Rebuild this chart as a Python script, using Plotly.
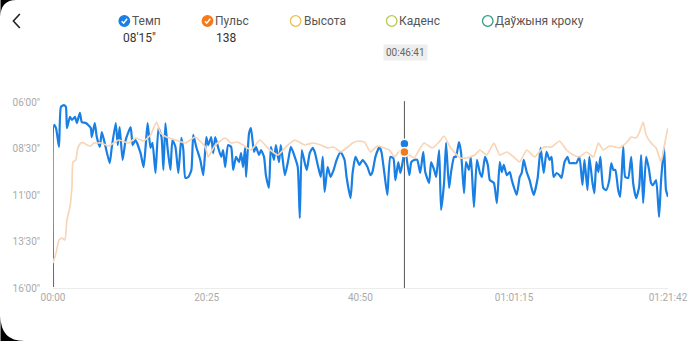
import plotly.graph_objects as go

# ---------------- data ----------------
# Pace (seconds per km) over elapsed time (seconds)
pace_t = [0, 8, 24, 48, 63, 87, 103, 111, 135, 151, 175, 190, 214, 230, 262, 301, 309, 333, 349, 373,
          389, 412, 452, 468, 500, 516, 531, 555, 579, 619, 635, 658, 698, 722, 738, 754, 777, 793, 817, 841,
          865, 880, 896, 912, 936, 952, 976, 999, 1023, 1039, 1055, 1079, 1103, 1118, 1142, 1174, 1198, 1222, 1237, 1261,
          1277, 1293, 1317, 1341, 1356, 1372, 1396, 1420, 1436, 1459, 1483, 1499, 1515, 1531, 1539, 1563, 1578, 1602, 1618, 1642,
          1658, 1682, 1697, 1721, 1737, 1761, 1777, 1801, 1816, 1848, 1872, 1896, 1927, 1951, 1967, 1983, 2007, 2023, 2046, 2070,
          2086, 2110, 2134, 2150, 2165, 2189, 2213, 2237, 2261, 2292, 2324, 2340, 2372, 2388, 2411, 2443, 2467, 2483, 2507, 2530,
          2546, 2570, 2602, 2618, 2641, 2665, 2689, 2713, 2729, 2752, 2768, 2792, 2801, 2840, 2856, 2879, 2903, 2927, 2951, 2967,
          2998, 3014, 3038, 3054, 3078, 3093, 3117, 3133, 3157, 3173, 3197, 3212, 3236, 3252, 3276, 3292, 3315, 3331, 3355, 3379,
          3403, 3419, 3443, 3466, 3482, 3514, 3538, 3561, 3577, 3593, 3617, 3641, 3657, 3673, 3696, 3720, 3736, 3752, 3776, 3799,
          3831, 3863, 3887, 3911, 3934, 3958, 3974, 3990, 4014, 4037, 4053, 4077, 4101, 4117, 4148, 4172, 4196, 4220, 4236, 4260,
          4275, 4299, 4315, 4331, 4347, 4363, 4386, 4410, 4434, 4450, 4466, 4482, 4505, 4521, 4545, 4561, 4585, 4609, 4624, 4648,
          4672, 4688, 4704, 4728, 4751, 4767, 4783, 4807, 4831, 4847, 4871, 4886, 4902]
pace_s = [957, 434, 444, 505, 376, 370, 376, 444, 408, 418, 408, 428, 395, 425, 428, 444, 473, 428, 473, 505,
          457, 492, 557, 508, 428, 499, 441, 547, 483, 441, 499, 483, 525, 570, 505, 428, 508, 492, 589, 444,
          473, 579, 428, 505, 579, 483, 505, 589, 476, 515, 605, 602, 579, 466, 505, 547, 596, 473, 499, 473,
          525, 473, 508, 537, 515, 570, 499, 505, 579, 537, 554, 525, 570, 508, 602, 460, 444, 521, 505, 531,
          515, 537, 596, 637, 505, 547, 499, 554, 499, 596, 554, 505, 537, 570, 734, 515, 557, 579, 525, 508,
          521, 563, 602, 537, 650, 570, 602, 579, 547, 521, 547, 602, 670, 589, 537, 563, 547, 554, 570, 596,
          586, 537, 505, 521, 589, 660, 537, 541, 612, 554, 589, 541, 495, 596, 554, 547, 547, 589, 521, 586,
          621, 554, 579, 602, 515, 708, 621, 492, 637, 586, 537, 537, 489, 521, 654, 554, 579, 537, 699, 547,
          589, 602, 537, 563, 612, 621, 686, 554, 586, 563, 596, 586, 612, 634, 660, 602, 589, 547, 586, 612,
          660, 605, 508, 589, 521, 547, 537, 602, 589, 596, 605, 554, 537, 557, 557, 557, 537, 628, 547, 644,
          537, 618, 654, 554, 586, 537, 637, 644, 612, 557, 579, 579, 644, 666, 505, 602, 605, 537, 621, 670,
          634, 531, 686, 537, 579, 621, 628, 612, 731, 612, 508, 644, 666]

# Heart rate (bpm) over elapsed time (seconds)
hr_t = [0, 24, 48, 71, 95, 111, 135, 151, 159, 182, 198, 222, 246, 270, 301, 325, 349, 381, 444, 524,
        603, 658, 722, 777, 825, 857, 904, 976, 1055, 1134, 1214, 1237, 1293, 1372, 1420, 1467, 1515, 1578, 1650, 1713,
        1793, 1864, 1927, 2007, 2070, 2134, 2189, 2237, 2292, 2340, 2388, 2435, 2483, 2530, 2586, 2641, 2681, 2721, 2768, 2801,
        2840, 2879, 2927, 2959, 3022, 3078, 3117, 3165, 3244, 3300, 3363, 3403, 3458, 3514, 3561, 3617, 3673, 3720, 3776, 3839,
        3911, 3974, 4037, 4093, 4148, 4196, 4252, 4307, 4347, 4386, 4434, 4482, 4513, 4569, 4609, 4648, 4672, 4704, 4728, 4767,
        4807, 4847, 4871, 4894, 4902]
hr_bpm = [82.5, 87.5, 94, 95, 94, 104, 110.5, 120.5, 133, 134, 140, 142.5, 142.5, 141.5, 141, 142.5, 142.5, 142.5, 141, 144,
          142.5, 145, 143.5, 146.5, 153, 147.5, 145.5, 144, 142.5, 145.5, 140.5, 135.5, 141.5, 145, 142.5, 143, 141.5, 139, 144, 140,
          136.5, 141, 144, 141.5, 142.5, 141.5, 140, 140.5, 138, 140, 142.5, 143.5, 143, 138, 141, 140, 139, 135.5, 139, 138,
          136.5, 135, 140, 142.5, 140, 143, 146, 140.5, 135, 135, 136.5, 139, 136.5, 142.5, 136.5, 138, 135.5, 133, 139, 135.5,
          140.5, 140.5, 143.5, 139, 136.5, 135.5, 138, 135.5, 142.5, 139, 141, 140.5, 140, 142.5, 145.5, 145, 147.5, 153, 146.5, 142.5,
          140, 133, 140.5, 148, 150]

x_tickvals = [0, 1225, 2450, 3675, 4902]
x_ticktext = ["00:00", "20:25", "40:50", "01:01:15", "01:21:42"]
y_tickvals = [360, 510, 660, 810, 960]
y_ticktext = ["06'00\"", "08'30\"", "11'00\"", "13'30\"", "16'00\""]

cursor_t = 2801
cursor_pace = 495
cursor_hr = 138
cursor_label = "00:46:41"

legend_items = ["Темп", "Пульс", "Высота", "Каденс", "Даўжыня кроку"]
legend_values = ["08'15\"", "138"]

BLUE = "#1A7FE3"
ORANGE = "#F27B1C"
PEACH = "#F8D5B6"

# ---------------- layout helpers (pixel -> paper) ----------------
L, R, T, B = 53, 674, 102, 288
W, H = 700, 341


def px(x):
    return (x - L) / (R - L)


def py(y):
    return (B - y) / (B - T)


fig = go.Figure()

fig.add_trace(go.Scatter(x=hr_t, y=hr_bpm, yaxis="y2", mode="lines",
                         line=dict(color=PEACH, width=1.7, shape="spline", smoothing=0.4),
                         hoverinfo="skip", showlegend=False))
fig.add_trace(go.Scatter(x=pace_t, y=pace_s, mode="lines",
                         line=dict(color=BLUE, width=2.2, shape="spline", smoothing=0.5),
                         hoverinfo="skip", showlegend=False))

# cursor markers
fig.add_trace(go.Scatter(x=[cursor_t], y=[cursor_pace], mode="markers",
                         marker=dict(color=BLUE, size=9, line=dict(color="white", width=1.5)),
                         showlegend=False, hoverinfo="skip"))
fig.add_trace(go.Scatter(x=[cursor_t], y=[cursor_hr], yaxis="y2", mode="markers",
                         marker=dict(color=ORANGE, size=9, line=dict(color="white", width=1.5)),
                         showlegend=False, hoverinfo="skip"))

shapes = []
# cursor line
shapes.append(dict(type="line", xref="x", yref="paper", x0=cursor_t, x1=cursor_t, y0=0, y1=1.005,
                   line=dict(color="#555555", width=1), layer="below"))

# legend circles
circ = [(125, BLUE, True), (209, ORANGE, True), (298, "#E6C04E", False), (395, "#B9CB4A", False),
        (492, "#2E9E80", False)]
cy = 21
r = 5.3
for cx, col, filled in circ:
    shapes.append(dict(type="circle", xref="paper", yref="paper",
                       x0=px(cx - r), x1=px(cx + r), y0=py(cy + r), y1=py(cy - r),
                       fillcolor=col if filled else "white",
                       line=dict(color=col, width=1.3)))
    if filled:
        path = "M {} {} L {} {} L {} {}".format(px(cx - 2.6), py(cy + 0.2), px(cx - 0.7), py(cy + 2.2),
                                                 px(cx + 2.8), py(cy - 2.2))
        shapes.append(dict(type="path", xref="paper", yref="paper", path=path,
                           line=dict(color="white", width=1.5)))

# back chevron
chev = "M {} {} L {} {} L {} {}".format(px(19.5), py(14), px(13), py(21), px(19.5), py(28))
shapes.append(dict(type="path", xref="paper", yref="paper", path=chev, line=dict(color="#222222", width=1.6)))

# screen corners (black)
tl = "M {} {} L {} {} Q {} {} {} {} Z".format(px(0), py(0), px(16), py(0), px(0), py(0), px(0), py(17))
bl = "M {} {} L {} {} Q {} {} {} {} Z".format(px(0), py(341), px(0), py(316), px(0), py(341), px(24), py(341))
for p in (tl, bl):
    shapes.append(dict(type="path", xref="paper", yref="paper", path=p, fillcolor="black",
                       line=dict(width=0)))

ann = []
FONT = "Roboto, Noto Sans, sans-serif"
text_x = [131, 215, 304, 400, 497]
for tx, lab in zip(text_x, legend_items):
    ann.append(dict(xref="paper", yref="paper", x=px(tx), y=py(21), text=lab, showarrow=False,
                    xanchor="left", yanchor="middle", font=dict(family=FONT, size=12, color="#555555")))
for vx, val in zip([140, 228], legend_values):
    ann.append(dict(xref="paper", yref="paper", x=px(vx), y=py(37.5), text=val, showarrow=False,
                    xanchor="center", yanchor="middle", font=dict(family=FONT, size=12, color="#333333")))
ann.append(dict(xref="paper", yref="paper", x=px(408.5), y=py(52.5), text=cursor_label, showarrow=False,
                xanchor="center", yanchor="middle", bgcolor="#EEEEEE", borderpad=2,
                font=dict(family=FONT, size=10, color="#666666")))

fig.update_layout(
    width=W, height=H,
    margin=dict(l=L, r=W - R, t=T, b=H - B),
    paper_bgcolor="white", plot_bgcolor="white",
    showlegend=False,
    shapes=shapes, annotations=ann,
    xaxis=dict(range=[0, 4902], tickvals=x_tickvals, ticktext=x_ticktext, showgrid=False, zeroline=False,
               showline=True, linecolor="#ECECEC", linewidth=1,
               tickfont=dict(family=FONT, size=10, color="#AAAAAA"), ticks=""),
    yaxis=dict(range=[960, 360], tickvals=y_tickvals, ticktext=y_ticktext, showgrid=False, zeroline=False,
               showline=False, ticks="outside", ticklen=10, tickcolor="rgba(0,0,0,0)",
               tickfont=dict(family=FONT, size=10, color="#AAAAAA")),
    yaxis2=dict(range=[70, 163], overlaying="y", visible=False),
)

fig.write_html("out.html")
